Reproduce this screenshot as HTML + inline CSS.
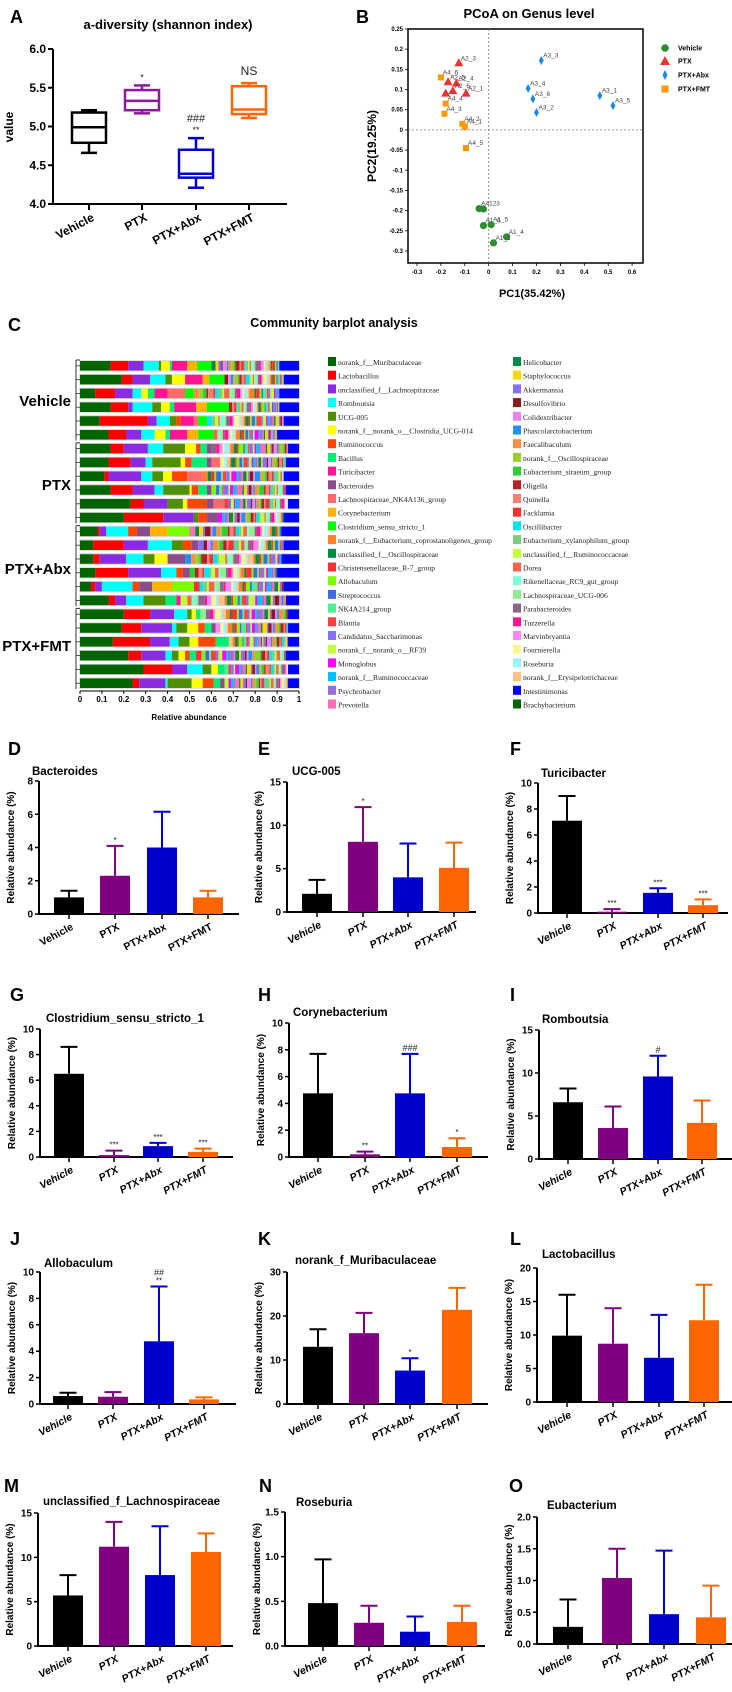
<!DOCTYPE html>
<html><head><meta charset="utf-8"><style>
html,body{margin:0;padding:0;background:#fff;}
svg{display:block;font-family:"Liberation Sans",Arial,sans-serif;}
</style></head><body>
<svg id="fig" width="732" height="1692" viewBox="0 0 732 1692" xmlns="http://www.w3.org/2000/svg"></svg>
<script>
// ---------- Panel A data ----------
const aGroups=["Vehicle","PTX","PTX+Abx","PTX+FMT"];
const aMin=[4.66,5.17,4.21,5.11];
const aQ1=[4.79,5.21,4.34,5.16];
const aMed=[4.99,5.33,4.39,5.22];
const aQ3=[5.18,5.47,4.70,5.52];
const aMax=[5.21,5.53,4.85,5.56];
const aTicks=[4.0,4.5,5.0,5.5,6.0];
const aSig=["","*","**","NS"];
const aSig2=["","","###",""];
// ---------- Panel B data ----------
const vehX=[-0.04,-0.022,-0.022,0.01,0.075,0.02];
const vehY=[-0.195,-0.196,-0.237,-0.235,-0.265,-0.28];
const vehL=["A4123","","A1_6","A1_5","A1_4","A1_1"];
const ptxX=[-0.125,-0.17,-0.135,-0.18,-0.15,-0.095];
const ptxY=[0.165,0.118,0.115,0.09,0.096,0.09];
const ptxL=["A2_3","A2_5","A2_4","","A2_6","A2_1"];
const abxX=[0.22,0.165,0.185,0.2,0.465,0.52];
const abxY=[0.172,0.103,0.077,0.043,0.085,0.06];
const abxL=["A3_3","A3_4","A3_6","A3_2","A3_1","A3_5"];
const fmtX=[-0.2,-0.18,-0.185,-0.11,-0.1,-0.095];
const fmtY=[0.13,0.065,0.04,0.015,0.008,-0.045];
const fmtL=["A4_6","A4_4","A4_3","A4_2","A4_1","A4_5"];
const bXTicks=[-0.3,-0.2,-0.1,0,0.1,0.2,0.3,0.4,0.5,0.6];
const bYTicks=[0.25,0.2,0.15,0.1,0.05,0,-0.05,-0.1,-0.15,-0.2,-0.25,-0.3];
// ---------- Panel C data ----------
const legend1=["norank_f__Muribaculaceae","Lactobacillus","unclassified_f__Lachnospiraceae","Romboutsia","UCG-005","norank_f__norank_o__Clostridia_UCG-014","Ruminococcus","Bacillus","Turicibacter","Bacteroides","Lachnospiraceae_NK4A136_group","Corynebacterium","Clostridium_sensu_stricto_1","norank_f__Eubacterium_coprostanoligenes_group","unclassified_f__Oscillospiraceae","Christensenellaceae_R-7_group","Allobaculum","Streptococcus","NK4A214_group","Blautia","Candidatus_Saccharimonas","norank_f__norank_o__RF39","Monoglobus","norank_f__Ruminococcaceae","Psychrobacter","Prevotella"];
const legend2=["Helicobacter","Staphylococcus","Akkermansia","Desulfovibrio","Colidextribacter","Phascolarctobacterium","Faecalibaculum","norank_f__Oscillospiraceae","Eubacterium_siraeum_group","Oligella","Quinella","Facklamia","Oscillibacter","Eubacterium_xylanophilum_group","unclassified_f__Ruminococcaceae","Dorea","Rikenellaceae_RC9_gut_group","Lachnospiraceae_UCG-006","Parabacteroides","Tuzzerella","Marvinbryantia","Fournierella","Roseburia","norank_f__Erysipelotrichaceae","Intestinimonas","Brachybacterium"];
const colors1=["#006400","#ff0000","#8a2be2","#00ffff","#4f8f00","#ffff00","#ff4500","#00ee76","#ff1493","#8b4c8b","#ff6a6a","#ffb300","#00ff00","#ff7f24","#008b45","#ff3030","#7cfc00","#4169e1","#4eee94","#ff4040","#8470ff","#c0ff3e","#ff00ff","#00bfff","#9370db","#ff6eb4"];
const colors2=["#008b45","#ffd700","#8470ff","#8b1a1a","#ee82ee","#1e90ff","#ff8c42","#9acd32","#32cd32","#b22222","#fa8072","#ff3030","#00e5ee","#7ccd7c","#c0ff3e","#ff6347","#7fffd4","#90ee90","#8b668b","#ff1493","#ff83fa","#fff68f","#98f5ff","#ffc08a","#0000ff","#006400"];
const sampleMain=[
[.14,.08,.07,.07,.01,.04,0,.01,.07,0,0,.045,.065],
[.19,.05,.08,.07,.03,.06,0,0,.08,0,0,.03,.07],
[.07,.09,.08,.04,0,.03,0,.03,.06,0,.08,0,.04],
[.14,.08,.02,.09,.04,.04,0,.02,.10,0,0,.05,.10],
[.09,.22,.04,.06,.03,0,.02,0,.06,0,.02,0,.04],
[.13,.08,.07,.06,0,.05,0,.02,.08,0,0,.05,.07],
[.14,.06,.11,.07,.10,.05,.02,.03,0,.02,0,0,0],
[.13,.10,.07,.03,.13,.02,.03,.07,0,.02,.04,0,0],
[.11,.02,.15,.05,.05,.04,.07,0,0,0,.07,0,0],
[.14,.10,.10,.04,.12,.01,.03,.04,0,.02,0,0,0],
[.23,.06,.11,0,.07,.02,.09,0,0,.03,.05,0,0],
[.20,.18,.14,0,.02,0,.04,0,0,.05,0,0,0],
[.08,.01,.03,.10,0,0,.04,0,0,.06,0,.08,0],
[.06,.14,.11,.11,.05,0,.04,0,0,.03,0,0,0],
[.06,.03,.12,.08,.05,.06,0,0,0,.08,0,0,0],
[.07,.15,.15,.07,0,0,.03,0,0,.03,0,0,0],
[.05,.02,.03,.14,0,0,.03,0,0,.06,0,.09,0],
[.13,.03,.05,.08,.10,0,0,.05,.02,0,0,0,0],
[.20,.12,.11,.06,.02,.02,0,.02,0,0,0,0,0],
[.19,.09,.14,.02,.05,.05,.03,.03,0,.02,0,0,0],
[.15,.17,.09,.04,.05,.04,.08,.06,0,0,0,0,0],
[.22,.06,.11,.03,.03,.03,.02,.03,0,0,0,0,0],
[.29,.13,.07,.07,.04,.03,0,.03,0,0,0,0,0],
[.24,.03,.12,.01,.11,.05,.05,.03,0,.02,0,0,0]];
const sampleAllo=[0,0,0,0,0,0,0,0,0,0,0,0,.10,0,0,0,.10,0,0,0,0,0,0,0];
const sampleBlue=[.09,.07,.09,.09,.07,.10,.05,.06,.07,.06,.05,.07,.08,.07,.08,.10,.07,.06,.05,.05,.05,.06,.05,.05];
const tailWeights=[3,2,2,1,3,1,2,2,1,3,1,2,1,2,1,1,2,1,3,1,2,1,1,2,1,1,2,1,1,1];
const cGroups=["Vehicle","PTX","PTX+Abx","PTX+FMT"];
const cXTicks=["0","0.1","0.2","0.3","0.4","0.5","0.6","0.7","0.8","0.9","1"];
// ---------- Bar panels data ----------
const barGroups=["Vehicle","PTX","PTX+Abx","PTX+FMT"];
const barColors=["#000000","#800080","#0000cc","#ff6600"];
const bactMeans=[1.0,2.3,4.0,1.0], bactTops=[1.4,4.1,6.15,1.4], bactTicks=[0,2,4,6,8], bactSig=["","*","",""];
const ucgMeans=[2.1,8.1,4.0,5.1], ucgTops=[3.7,12.1,7.9,8.0], ucgTicks=[0,5,10,15], ucgSig=["","*","",""];
const turiMeans=[7.1,0.1,1.55,0.6], turiTops=[9.0,0.3,1.9,1.05], turiTicks=[0,2,4,6,8,10], turiSig=["","***","***","***"];
const closMeans=[6.5,0.15,0.85,0.4], closTops=[8.6,0.5,1.1,0.65], closTicks=[0,2,4,6,8,10], closSig=["","***","***","***"];
const coryMeans=[4.75,0.2,4.75,0.75], coryTops=[7.7,0.4,7.7,1.4], coryTicks=[0,2,4,6,8,10], corySig=["","**","###","*"];
const romMeans=[6.6,3.6,9.6,4.2], romTops=[8.2,6.1,12.0,6.8], romTicks=[0,5,10,15], romSig=["","","#",""];
const alloMeans=[0.6,0.55,4.75,0.35], alloTops=[0.85,0.9,8.9,0.5], alloTicks=[0,2,4,6,8,10], alloSig=["","","**","" ], alloSig2=["","","##",""];
const muriMeans=[13,16.1,7.6,21.4], muriTops=[17,20.7,10.4,26.4], muriTicks=[0,10,20,30], muriSig=["","","*",""];
const lactMeans=[9.9,8.7,6.6,12.2], lactTops=[16,14,13,17.5], lactTicks=[0,5,10,15,20], lactSig=["","","",""];
const lachMeans=[5.7,11.2,8.0,10.6], lachTops=[8.0,14.0,13.5,12.7], lachTicks=[0,5,10,15], lachSig=["","","",""];
const roseMeans=[0.48,0.26,0.16,0.27], roseTops=[0.97,0.45,0.33,0.45], roseTicks=[0,0.5,1.0,1.5], roseSig=["","","",""];
const eubMeans=[0.27,1.04,0.47,0.42], eubTops=[0.7,1.5,1.47,0.92], eubTicks=[0,0.5,1.0,1.5,2.0], eubSig=["","","",""];

const NS="http://www.w3.org/2000/svg";
const svg=document.getElementById('fig');
function mk(tag,attrs,parent,txt){const e=document.createElementNS(NS,tag);for(const k in attrs)e.setAttribute(k,attrs[k]);if(txt!==undefined)e.textContent=txt;(parent||svg).appendChild(e);return e;}
function grp(name,parent){const g=mk('g',{},parent);return g;}
function txt(parent,name,x,y,s,size,opts){opts=opts||{};const t=mk('text',{x:x,y:y,'font-size':size,'font-weight':opts.w||'bold','text-anchor':opts.a||'start',fill:opts.f||'#000','font-style':opts.i?'italic':'normal'},parent,s);if(opts.tr)t.setAttribute('transform',opts.tr);if(opts.fam)t.setAttribute('font-family',opts.fam);return t;}

// ================= Panel A =================
(function(){
 const g=grp('panel-a');
 txt(g,'panel-letter-a',10,23,'A',18);
 txt(g,'chart-title-a',168,29,'a-diversity (shannon index)',13,{a:'middle'});
 const ax=53,top=49,base=204,end=287,lo=4.0,hi=6.0;
 const y=v=>base-(v-lo)/(hi-lo)*(base-top);
 const cx=[89,142,196,249];
 const cols=["#000000","#8b1a9a","#0000cc","#ff6600"];
 mk('line',{x1:ax,y1:top,x2:ax,y2:base+1,stroke:'#000','stroke-width':2},g);
 mk('line',{x1:ax-1,y1:base,x2:end,y2:base,stroke:'#000','stroke-width':2},g);
 aTicks.forEach(t=>{mk('line',{x1:ax-5,y1:y(t),x2:ax,y2:y(t),stroke:'#000','stroke-width':2},g);txt(g,'y-tick-label',ax-7,y(t)+4,t.toFixed(1),12,{a:'end'});});
 txt(g,'y-axis-title',13,127,'value',12,{a:'middle',tr:'rotate(-90 13 127)'});
 aGroups.forEach((n,i)=>{
  const b=grp('box-'+n.toLowerCase().replace('+','-'),g);const c=cols[i],x=cx[i],w=34;
  mk('line',{x1:x,y1:base,x2:x,y2:base+6,stroke:'#000','stroke-width':2},g);
  mk('line',{x1:x,y1:y(aMin[i]),x2:x,y2:y(aMax[i]),stroke:c,'stroke-width':2.5},b);
  mk('line',{x1:x-8,y1:y(aMin[i]),x2:x+8,y2:y(aMin[i]),stroke:c,'stroke-width':2.5},b);
  mk('line',{x1:x-8,y1:y(aMax[i]),x2:x+8,y2:y(aMax[i]),stroke:c,'stroke-width':2.5},b);
  mk('rect',{x:x-w/2,y:y(aQ3[i]),width:w,height:y(aQ1[i])-y(aQ3[i]),fill:'#fff',stroke:c,'stroke-width':2.5},b);
  mk('line',{x1:x-w/2,y1:y(aMed[i]),x2:x+w/2,y2:y(aMed[i]),stroke:c,'stroke-width':2.5},b);
  if(aSig[i]==='NS')txt(g,'sig-label',x,y(aMax[i])-8,'NS',12,{a:'middle',w:'normal',f:'#222'});
  else if(aSig[i])txt(g,'sig-label',x,y(aMax[i])-5,aSig[i],9,{a:'middle',w:'normal',f:'#222'});
  if(aSig2[i])txt(g,'sig-label',x,y(aMax[i])-16,aSig2[i],11,{a:'middle',w:'normal',f:'#222'});
  txt(g,'x-tick-label',x+6,base+16,n,12,{a:'end',tr:`rotate(-28 ${x+6} ${base+16})`});
 });
})();

// ================= Panel B =================
(function(){
 const g=grp('panel-b');
 txt(g,'panel-letter-b',356,23,'B',18);
 txt(g,'chart-title-b',529,18,'PCoA on Genus level',13,{a:'middle'});
 const L=408,R=643,T=29,Bm=263;
 const x=v=>417+(v+0.3)*239, y=v=>29+(0.25-v)/0.05*20.18;
 mk('rect',{x:L,y:T,width:R-L,height:Bm-T,fill:'none',stroke:'#000','stroke-width':1.5},g);
 mk('line',{x1:x(0),y1:T,x2:x(0),y2:Bm,stroke:'#777','stroke-width':0.8,'stroke-dasharray':'2,2'},g);
 mk('line',{x1:L,y1:y(0),x2:R,y2:y(0),stroke:'#777','stroke-width':0.8,'stroke-dasharray':'2,2'},g);
 bXTicks.forEach(t=>{mk('line',{x1:x(t),y1:Bm,x2:x(t),y2:Bm+3,stroke:'#000','stroke-width':0.8},g);txt(g,'x-tick-label',x(t),Bm+11,String(t),6,{a:'middle'});});
 bYTicks.forEach(t=>{mk('line',{x1:L-3,y1:y(t),x2:L,y2:y(t),stroke:'#000','stroke-width':0.8},g);txt(g,'y-tick-label',L-5,y(t)+2,String(t),6,{a:'end'});});
 txt(g,'y-axis-title',376,146,'PC2(19.25%)',12,{a:'middle',tr:'rotate(-90 376 146)'});
 txt(g,'x-axis-title',532,297,'PC1(35.42%)',11,{a:'middle'});
 function pts(X,Y,Lb,col,shape,name){
  const gg=grp(name,g);
  X.forEach((v,i)=>{const px=x(v),py=y(Y[i]);let e;
   if(shape==='c')e=mk('circle',{cx:px,cy:py,r:3.6,fill:col},gg);
   else if(shape==='t')e=mk('polygon',{points:`${px},${py-5} ${px-4.5},${py+3} ${px+4.5},${py+3}`,fill:col},gg);
   else if(shape==='d')e=mk('polygon',{points:`${px},${py-4.5} ${px-2.5},${py} ${px},${py+4.5} ${px+2.5},${py}`,fill:col},gg);
   else e=mk('rect',{x:px-3,y:py-3,width:6,height:6,fill:col},gg);
   
   if(Lb[i])txt(gg,'point-label',px+2,py-3,Lb[i],6.5,{w:'normal',f:'#444'});
  });
 }
 pts(vehX,vehY,vehL,'#2e8b2e','c','vehicle-points');
 pts(fmtX,fmtY,fmtL,'#ff9900','s','ptx-fmt-points');
 pts(ptxX,ptxY,ptxL,'#ee3333','t','ptx-points');
 pts(abxX,abxY,abxL,'#1e88e5','d','ptx-abx-points');
 const lg=grp('legend-b',g);const ly=[48,61,75,89],ln=["Vehicle","PTX","PTX+Abx","PTX+FMT"];
 mk('circle',{cx:665,cy:48,r:3.8,fill:'#2e8b2e'},lg);
 mk('polygon',{points:'665,56 660,65 670,65',fill:'#ee3333'},lg);
 mk('polygon',{points:'665,70 662.5,75 665,80 667.5,75',fill:'#1e88e5'},lg);
 mk('rect',{x:661.5,y:85.5,width:7,height:7,fill:'#ff9900'},lg);
 ln.forEach((n,i)=>txt(lg,'legend-entry',678,ly[i]+2.5,n,7));
})();

// ================= Panel C =================
(function(){
 const g=grp('panel-c');
 txt(g,'panel-letter-c',8,331,'C',18);
 txt(g,'chart-title-c',334,327,'Community barplot analysis',12.5,{a:'middle'});
 const L=80,R=299,W=R-L,top0=361,pitch=13.8,h=9.6;
 const tailCols=colors2.slice(0,24).concat(colors1.slice(13,26));
 sampleMain.forEach((row,r)=>{
  const bg=grp('sample-bar-'+(r+1),g);const y=top0+r*pitch;let x=L;
  mk('rect',{x:L-0.5,y:y-0.5,width:W+1,height:h+1,fill:'#fff',stroke:'#ccc','stroke-width':0.6},bg);
  const seg=(f,c)=>{if(f<=0)return;const e=mk('rect',{x:x,y:y,width:f*W,height:h,fill:c},bg);x+=f*W;};
  let used=0;row.forEach((f,k)=>{seg(f,colors1[k]);used+=f;});
  seg(sampleAllo[r],colors1[16]);used+=sampleAllo[r];
  const rest=1-used-sampleBlue[r];
  const tw=tailWeights.reduce((a,b)=>a+b,0);
  tailWeights.forEach((w,k)=>seg(rest*w/tw,tailCols[(k+r*3)%tailCols.length]));
  seg(sampleBlue[r],'#0000ff');
 });
 const gy=[400,484,568,645];
 cGroups.forEach((n,i)=>{
  const y1=top0+i*6*pitch-1,y2=top0+(i*6+5)*pitch+h+1;
  mk('line',{x1:76,y1:y1,x2:76,y2:y2,stroke:'#333','stroke-width':1},g);
  for(let k=0;k<6;k++){const yy=top0+(i*6+k)*pitch+h/2;mk('line',{x1:76,y1:yy,x2:80,y2:yy,stroke:'#333','stroke-width':0.8},g);}
  mk('line',{x1:76,y1:y1,x2:80,y2:y1,stroke:'#333','stroke-width':1},g);
  txt(g,'group-label',71,gy[i]+6,n,15,{a:'end'});
 });
 const ay=691;
 mk('line',{x1:L,y1:ay,x2:R,y2:ay,stroke:'#000','stroke-width':1},g);
 cXTicks.forEach((t,i)=>{const xx=L+W*i/10;mk('line',{x1:xx,y1:ay,x2:xx,y2:ay+3,stroke:'#000','stroke-width':1},g);txt(g,'x-tick-label',xx,ay+11,t,8,{a:'middle'});});
 txt(g,'x-axis-title',189,720,'Relative abundance',8,{a:'middle'});
 const lg=grp('legend-c',g);
 function col(names,cols,sx,tx){names.forEach((n,i)=>{const y=362+i*13.7;const r=mk('rect',{x:sx,y:y-5,width:8,height:9,fill:cols[i]},lg);txt(lg,'legend-entry',tx,y+3,n,7.6,{w:'normal',fam:'"Liberation Serif",serif',f:'#222'});});}
 col(legend1,colors1,328,338);
 col(legend2,colors2,513,523);
})();

// ================= Bar panels =================
const panels=[
 {id:'d',letter:'D',lx:8,ly:755,title:'Bacteroides',tx:32,ty:775,ax:39,top:781,base:914,end:239,cx:[69,115,162,208],ticks:bactTicks,means:bactMeans,tops:bactTops,sig:bactSig,it:false},
 {id:'e',letter:'E',lx:258,ly:755,title:'UCG-005',tx:292,ty:775,ax:287,top:782,base:912,end:476,cx:[317,363,408,454],ticks:ucgTicks,means:ucgMeans,tops:ucgTops,sig:ucgSig,it:true},
 {id:'f',letter:'F',lx:510,ly:755,title:'Turicibacter',tx:541,ty:777,ax:538,top:783,base:913,end:728,cx:[567,612,658,703],ticks:turiTicks,means:turiMeans,tops:turiTops,sig:turiSig,it:true},
 {id:'g',letter:'G',lx:10,ly:1001,title:'Clostridium_sensu_stricto_1',tx:46,ty:1022,ax:40,top:1029,base:1157,end:233,cx:[69,114,158,203],ticks:closTicks,means:closMeans,tops:closTops,sig:closSig,it:true},
 {id:'h',letter:'H',lx:258,ly:1001,title:'Corynebacterium',tx:293,ty:1016,ax:289,top:1023,base:1157,end:488,cx:[318,365,410,457],ticks:coryTicks,means:coryMeans,tops:coryTops,sig:corySig,it:true},
 {id:'i',letter:'I',lx:510,ly:1001,title:'Romboutsia',tx:542,ty:1023,ax:539,top:1030,base:1159,end:732,cx:[568,613,658,702],ticks:romTicks,means:romMeans,tops:romTops,sig:romSig,it:true},
 {id:'j',letter:'J',lx:10,ly:1245,title:'Allobaculum',tx:44,ty:1267,ax:40,top:1272,base:1404,end:236,cx:[68,113,159,204],ticks:alloTicks,means:alloMeans,tops:alloTops,sig:alloSig,sig2:alloSig2,it:true},
 {id:'k',letter:'K',lx:258,ly:1245,title:'norank_f_Muribaculaceae',tx:295,ty:1264,ax:287,top:1272,base:1404,end:488,cx:[318,364,410,457],ticks:muriTicks,means:muriMeans,tops:muriTops,sig:muriSig,it:true},
 {id:'l',letter:'L',lx:510,ly:1245,title:'Lactobacillus',tx:542,ty:1258,ax:537,top:1268,base:1402,end:732,cx:[567,613,659,704],ticks:lactTicks,means:lactMeans,tops:lactTops,sig:lactSig,it:true},
 {id:'m',letter:'M',lx:4,ly:1492,title:'unclassified_f_Lachnospiraceae',tx:43,ty:1505,ax:38,top:1513,base:1646,end:233,cx:[68,114,160,206],ticks:lachTicks,means:lachMeans,tops:lachTops,sig:lachSig,it:true},
 {id:'n',letter:'N',lx:259,ly:1492,title:'Roseburia',tx:296,ty:1506,ax:285,top:1512,base:1646,end:485,cx:[323,369,415,462],ticks:roseTicks,means:roseMeans,tops:roseTops,sig:roseSig,it:true},
 {id:'o',letter:'O',lx:509,ly:1492,title:'Eubacterium',tx:547,ty:1509,ax:537,top:1517,base:1644,end:732,cx:[568,617,664,711],ticks:eubTicks,means:eubMeans,tops:eubTops,sig:eubSig,it:true}
];
panels.forEach(p=>{
 const g=grp('panel-'+p.id);
 txt(g,'panel-letter-'+p.id,p.lx,p.ly,p.letter,18);
 txt(g,'chart-title-'+p.id,p.tx,p.ty,p.title,11.5);
 const hi=p.ticks[p.ticks.length-1];
 const y=v=>p.base-v/hi*(p.base-p.top);
 mk('line',{x1:p.ax,y1:p.top,x2:p.ax,y2:p.base+1,stroke:'#000','stroke-width':2},g);
 mk('line',{x1:p.ax-1,y1:p.base,x2:p.end,y2:p.base,stroke:'#000','stroke-width':2},g);
 p.ticks.forEach(t=>{mk('line',{x1:p.ax-4,y1:y(t),x2:p.ax,y2:y(t),stroke:'#000','stroke-width':1.5},g);
  const s=(hi<=2)?t.toFixed(1):String(t);txt(g,'y-tick-label',p.ax-6,y(t)+3.5,s,10,{a:'end'});});
 const mid=(p.top+p.base)/2;
 txt(g,'y-axis-title',p.ax-25,mid,'Relative abundance (%)',10,{a:'middle',tr:`rotate(-90 ${p.ax-25} ${mid})`});
 const bw=30,cw=17;
 barGroups.forEach((n,i)=>{
  const c=barColors[i],x=p.cx[i];
  const bg=grp('bar-'+p.id+'-'+n.toLowerCase().replace('+','-'),g);
  mk('line',{x1:x,y1:y(p.means[i]),x2:x,y2:y(p.tops[i]),stroke:c,'stroke-width':2},bg);
  mk('line',{x1:x-cw/2,y1:y(p.tops[i]),x2:x+cw/2,y2:y(p.tops[i]),stroke:c,'stroke-width':2},bg);
  mk('rect',{x:x-bw/2,y:y(p.means[i]),width:bw,height:Math.max(0.5,p.base-y(p.means[i])),fill:c},bg);
  mk('line',{x1:x,y1:p.base,x2:x,y2:p.base+5,stroke:'#000','stroke-width':1.5},g);
  if(p.sig[i])txt(g,'sig-label',x,y(p.tops[i])-3,p.sig[i],p.sig[i].startsWith('#')?9:8,{a:'middle',w:'normal',f:'#222'});
  if(p.sig2&&p.sig2[i])txt(g,'sig-label',x,y(p.tops[i])-11,p.sig2[i],9,{a:'middle',w:'normal',f:'#222'});
  const lx=x+5,ly=p.base+15;
  txt(g,'x-tick-label',lx,ly,n,10.5,{a:'end',i:p.it,tr:`rotate(-28 ${lx} ${ly})`});
 });
});
</script>
</body></html>
